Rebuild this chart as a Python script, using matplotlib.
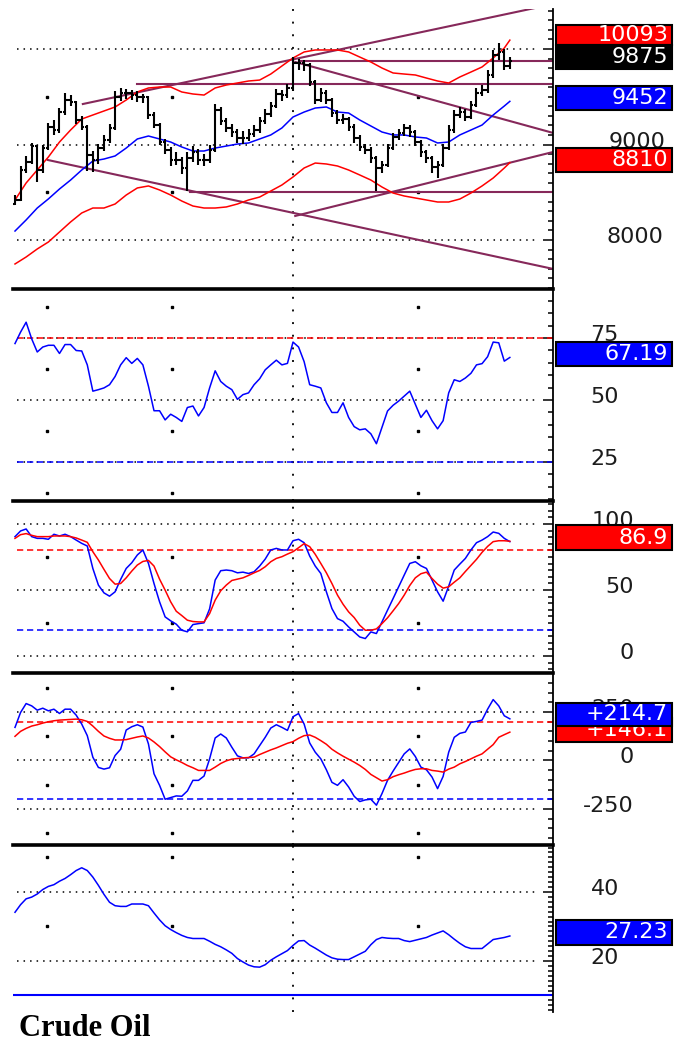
import matplotlib
matplotlib.use('Agg')
import matplotlib.pyplot as plt
from matplotlib.patches import Rectangle
from matplotlib.ticker import MultipleLocator, FixedLocator

# ---- price bars (one per session) ----
opens = [8380, 8420, 8730, 8820, 8985, 8735, 8965, 9185, 9150, 9340,
         9465, 9445, 9255, 9185, 8890, 8840, 8965, 9045, 9175, 9495,
         9540, 9540, 9520, 9495, 9495, 9310, 9205, 9025, 8945, 8840,
         8840, 8755, 8860, 8920, 8840, 8840, 8945, 9360, 9245, 9175,
         9130, 9070, 9070, 9110, 9150, 9245, 9320, 9405, 9530, 9520,
         9590, 9855, 9855, 9830, 9655, 9465, 9540, 9465, 9330, 9255,
         9265, 9185, 9070, 8975, 8945, 8860, 8755, 8785, 8965, 9080,
         9120, 9175, 9130, 9025, 8920, 8860, 8765, 8785, 8965, 9150,
         9310, 9340, 9290, 9415, 9540, 9570, 9730, 9935, 9970, 9820]
highs = [8470, 8770, 8880, 9020, 9000, 9000, 9230, 9260, 9380, 9540,
         9520, 9460, 9300, 9200, 8930, 9010, 9100, 9210, 9560, 9590,
         9580, 9570, 9560, 9530, 9510, 9340, 9230, 9060, 8970, 8920,
         8870, 8920, 8980, 8950, 8900, 8990, 9420, 9390, 9280, 9210,
         9160, 9140, 9160, 9200, 9290, 9370, 9450, 9580, 9570, 9630,
         9920, 9900, 9880, 9850, 9680, 9590, 9570, 9490, 9360, 9320,
         9290, 9210, 9100, 9010, 8970, 8880, 8830, 9010, 9120, 9160,
         9220, 9200, 9150, 9050, 8940, 8880, 8830, 9010, 9200, 9360,
         9390, 9370, 9460, 9590, 9620, 9780, 9990, 10060, 10000, 9920]
lows = [8370, 8410, 8700, 8800, 8610, 8700, 8940, 9100, 9120, 9310,
        9400, 9220, 9150, 8720, 8710, 8800, 8930, 9020, 9150, 9460,
        9480, 9470, 9440, 9430, 9270, 9170, 8990, 8900, 8780, 8790,
        8690, 8510, 8820, 8790, 8770, 8810, 8920, 9200, 9130, 9080,
        9020, 9010, 9040, 9080, 9120, 9210, 9290, 9380, 9460, 9490,
        9560, 9780, 9770, 9610, 9420, 9440, 9420, 9290, 9210, 9220,
        9140, 9020, 8930, 8900, 8810, 8510, 8700, 8760, 8940, 9050,
        9090, 9080, 8980, 8870, 8810, 8700, 8650, 8760, 8940, 9120,
        9280, 9250, 9270, 9390, 9510, 9540, 9700, 9880, 9780, 9790]
closes = [8420, 8730, 8820, 8985, 8735, 8965, 9185, 9150, 9340, 9465,
          9445, 9255, 9185, 8890, 8840, 8965, 9045, 9175, 9495, 9540,
          9540, 9520, 9495, 9495, 9310, 9205, 9025, 8945, 8840, 8840,
          8755, 8860, 8920, 8840, 8840, 8945, 9360, 9245, 9175, 9130,
          9070, 9070, 9110, 9150, 9245, 9320, 9405, 9530, 9520, 9590,
          9855, 9855, 9830, 9655, 9465, 9540, 9465, 9330, 9255, 9265,
          9185, 9070, 8975, 8945, 8860, 8755, 8785, 8965, 9080, 9120,
          9175, 9130, 9025, 8920, 8860, 8765, 8785, 8965, 9150, 9310,
          9340, 9290, 9415, 9540, 9570, 9730, 9935, 9970, 9820, 9875]
bar_idx = list(range(len(closes)))

# moving average and bands, read every second bar
band_idx = list(range(0, 90, 2)) + [89]
ma_mid = [8094, 8210, 8335, 8430, 8534, 8628, 8733, 8827, 8848, 8880,
          8963, 9058, 9089, 9058, 9026, 8974, 8932, 8932, 8963, 8984,
          9005, 9016, 9058, 9100, 9173, 9288, 9340, 9382, 9393, 9340,
          9330, 9257, 9194, 9131, 9100, 9100, 9079, 9068, 9016, 9026,
          9100, 9152, 9204, 9309, 9403, 9452]
band_up = [8419, 8597, 8733, 8869, 9026, 9152, 9267, 9309, 9351, 9393,
           9466, 9550, 9592, 9602, 9602, 9550, 9529, 9518, 9592, 9623,
           9644, 9665, 9675, 9738, 9822, 9906, 9969, 9990, 9990, 9990,
           9969, 9916, 9864, 9801, 9749, 9738, 9728, 9696, 9665, 9644,
           9707, 9759, 9812, 9906, 10010, 10093]
band_dn = [7749, 7822, 7906, 7979, 8084, 8189, 8283, 8335, 8335, 8377,
           8471, 8545, 8566, 8524, 8471, 8408, 8356, 8335, 8335, 8346,
           8377, 8419, 8450, 8513, 8576, 8660, 8754, 8806, 8796, 8775,
           8733, 8681, 8628, 8555, 8492, 8461, 8440, 8419, 8398, 8398,
           8429, 8492, 8566, 8649, 8754, 8810]

# hand drawn trend lines: start bar, start price, end bar, end price
trend_x0 = [12.2, 21.9, 51.3, 50.4, 5.9, 50.4, 31.5]
trend_y0 = [9424, 9634, 9870, 9864, 8838, 8252, 8503]
trend_x1 = [96.8, 96.8, 96.8, 96.8, 96.8, 96.8, 96.8]
trend_y1 = [10470, 9634, 9870, 9121, 7697, 8922, 8503]

# ---- indicators ----
rsi = [72.8, 77.4, 81.4, 74.7, 69.4, 71.4, 72.1, 72.1, 68.8, 72.4,
       72.4, 70.0, 69.8, 64.2, 53.6, 54.2, 54.9, 56.2, 59.5, 64.2,
       67.1, 64.8, 66.8, 64.2, 55.6, 45.7, 45.7, 42.0, 44.3, 43.0,
       41.4, 47.0, 47.6, 43.6, 47.0, 54.9, 61.8, 57.5, 55.6, 54.2,
       50.3, 52.2, 52.9, 56.2, 58.6, 62.2, 64.2, 66.1, 64.2, 64.8,
       73.4, 71.4, 65.5, 56.2, 55.6, 54.9, 48.9, 45.0, 45.0, 48.9,
       43.0, 39.3, 38.0, 38.4, 36.4, 32.4, 39.0, 45.6, 47.9, 49.6,
       51.6, 53.6, 48.3, 43.0, 45.9, 41.7, 38.4, 41.7, 52.9, 58.2,
       57.5, 58.9, 60.8, 64.2, 64.7, 67.5, 73.4, 73.1, 65.7, 67.19]
stoch_k = [90.4, 94.7, 96.2, 90.4, 89.1, 89.1, 88.4, 92.2, 90.9, 92.2,
           90.4, 87.8, 85.3, 83.3, 66.3, 53.7, 47.8, 45.3, 48.6, 58.0,
           66.3, 70.6, 76.5, 80.3, 70.1, 54.9, 41.0, 29.6, 26.6, 24.1,
           19.5, 18.3, 23.8, 24.5, 25.1, 35.7, 57.5, 64.6, 65.1, 64.6,
           63.0, 63.5, 62.5, 63.8, 68.1, 73.4, 80.3, 81.5, 80.3, 80.3,
           87.3, 88.4, 85.8, 75.7, 68.1, 62.5, 48.6, 35.9, 28.3, 26.3,
           22.0, 18.2, 14.4, 13.2, 18.2, 17.0, 25.8, 34.7, 43.5, 52.4,
           61.3, 70.1, 71.4, 68.3, 66.3, 57.5, 48.6, 41.5, 52.9, 65.1,
           69.6, 73.9, 80.3, 85.8, 87.8, 90.4, 93.9, 92.9, 89.1, 86.6]
stoch_d = [89.1, 91.9, 92.7, 91.4, 90.4, 90.4, 90.4, 90.9, 90.9, 90.9,
           90.4, 89.4, 87.8, 86.1, 79.0, 72.7, 65.6, 58.7, 54.4, 54.9,
           59.2, 64.3, 68.9, 71.6, 72.4, 68.1, 58.2, 49.9, 41.0, 33.9,
           30.6, 27.1, 26.1, 25.8, 25.8, 32.1, 42.3, 49.4, 53.7, 57.2,
           58.2, 59.2, 61.0, 63.0, 64.8, 67.6, 71.4, 73.9, 75.2, 77.2,
           79.0, 82.0, 85.1, 82.8, 77.0, 70.1, 63.0, 54.9, 46.1, 39.2,
           33.4, 29.1, 23.3, 19.5, 19.5, 20.5, 24.5, 28.9, 34.2, 39.7,
           46.1, 53.4, 59.2, 62.3, 63.5, 58.7, 54.4, 51.4, 52.4, 55.9,
           59.2, 64.0, 68.6, 73.2, 78.5, 83.0, 86.6, 87.3, 87.3, 86.9]
cci = [170.7, 247.4, 293.5, 281.6, 259.4, 269.6, 256.0, 264.5, 242.3, 264.5,
       264.5, 233.8, 187.7, 128.0, 17.1, -35.8, -44.4, -37.5, 25.6, 58.0,
       157.0, 174.1, 184.3, 172.4, 85.3, -68.3, -128.0, -199.7, -191.1, -182.6,
       -184.3, -157.0, -102.4, -102.4, -80.2, 8.5, 116.0, 136.5, 116.0, 68.3,
       23.9, 13.7, 13.7, 34.1, 76.8, 119.5, 167.2, 184.3, 170.7, 155.3,
       225.3, 242.3, 187.7, 90.4, 42.7, 8.5, -47.8, -112.6, -128.0, -99.0,
       -136.5, -184.3, -211.6, -203.1, -199.7, -230.4, -170.7, -102.4, -54.6, -10.2,
       34.1, 59.7, 20.5, -34.1, -47.8, -85.3, -145.1, -81.9, 42.7, 119.5,
       139.9, 146.8, 196.2, 201.4, 208.2, 264.5, 314.0, 281.6, 230.4, 214.7]
cci_avg = [124.6, 150.2, 165.5, 177.5, 184.3, 192.9, 199.7, 204.8, 208.2, 209.9,
           211.6, 213.3, 209.9, 201.4, 177.5, 150.2, 126.3, 114.4, 105.8, 105.8,
           107.5, 114.4, 121.2, 126.3, 116.0, 95.6, 71.7, 44.4, 18.8, 3.4,
           -10.2, -25.6, -37.5, -51.2, -51.2, -51.2, -34.1, -15.4, -1.7, 6.8,
           10.2, 13.7, 15.4, 17.1, 30.7, 42.7, 54.6, 64.8, 76.8, 88.7,
           97.3, 114.4, 128.0, 131.4, 119.5, 102.4, 83.6, 58.0, 39.2, 22.2,
           6.8, -8.5, -25.6, -46.1, -71.7, -88.7, -105.8, -99.0, -83.6, -73.4,
           -64.8, -54.6, -46.1, -42.7, -42.7, -51.2, -54.6, -59.7, -44.4, -34.1,
           -17.1, -5.1, 8.5, 22.2, 34.1, 58.0, 81.9, 119.5, 133.1, 146.1]
adx = [34.1, 36.3, 38.0, 38.5, 39.4, 40.7, 41.6, 42.1, 43.1, 43.9,
       45.0, 46.2, 47.0, 46.2, 44.3, 41.9, 39.3, 37.0, 36.0, 35.8,
       35.8, 36.5, 36.5, 36.5, 36.0, 33.9, 31.9, 30.2, 29.1, 28.2,
       27.4, 26.8, 26.5, 26.5, 26.5, 25.7, 24.8, 24.1, 23.2, 22.2,
       20.7, 19.7, 18.8, 18.3, 18.2, 18.9, 20.2, 21.2, 22.1, 23.0,
       24.5, 25.8, 25.9, 24.6, 23.7, 22.7, 21.7, 20.9, 20.5, 20.4,
       20.4, 21.2, 22.0, 22.8, 24.7, 26.2, 26.8, 26.6, 26.5, 26.5,
       25.9, 25.6, 26.0, 26.4, 26.8, 27.5, 28.1, 28.7, 27.6, 26.3,
       25.1, 24.1, 23.6, 23.6, 23.6, 24.9, 26.2, 26.5, 26.8, 27.23]

# last value boxes on the right: text, colour
box_text = ['10093', '9875', '9452', '8810', '67.19', '86.9', '+146.1', '+214.7', '27.23']
box_color = ['#ff0000', '#000000', '#0000ff', '#ff0000', '#0000ff', '#ff0000',
             '#ff0000', '#0000ff', '#0000ff']
box_top = [25, 45, 86, 148, 342, 525, 718, 703, 920]
box_bot = [45, 69, 110, 172, 366, 550, 742, 726, 945]

plt.rcParams['lines.scale_dashes'] = False
plt.rcParams['font.family'] = 'DejaVu Sans'

W, H = 674, 1044
fig = plt.figure(figsize=(W / 100, H / 100), dpi=100)


def fx(x):
    return x / W


def fy(y):
    return 1 - y / H


LEFT, RIGHT = 13, 553
X_LO, X_HI = -0.36, 96.76
GRID_X0, GRID_X1 = 0.36, 93.5
DOTS = (0, (1.1, 3.6))
VDOTS = (0, (1.4, 7.7))
DASH = (0, (4.5, 2.7))
TREND = '#86285a'
LABCOL = '#1c1c1c'
dot_idx = [5.76, 28.24, 72.48]


def make_panel(top, bottom, ylo, yhi, minor, majors, grid, dots, sep=True):
    ax = fig.add_axes([fx(LEFT), fy(bottom), fx(RIGHT) - fx(LEFT), (bottom - top) / H])
    ax.patch.set_visible(False)
    ax.set_xlim(X_LO, X_HI)
    ax.set_ylim(ylo, yhi)
    ax.spines['left'].set_visible(False)
    ax.spines['top'].set_visible(False)
    ax.spines['right'].set_linewidth(1.3)
    if sep:
        ax.spines['bottom'].set_linewidth(2.6)
    else:
        ax.spines['bottom'].set_visible(False)
    ax.set_xticks([])
    ax.yaxis.tick_right()
    ax.yaxis.set_major_locator(FixedLocator(majors))
    ax.yaxis.set_minor_locator(MultipleLocator(minor))
    ax.tick_params(axis='y', which='major', direction='in', length=7, width=1.1,
                   labelright=False, labelleft=False)
    ax.tick_params(axis='y', which='minor', direction='in', length=3.5, width=1.1)
    for g in grid:
        ax.plot([GRID_X0, GRID_X1], [g, g], color='black', lw=1.1, ls=DOTS, zorder=1)
    ax.axvline(50, color='black', lw=1.3, ls=VDOTS, zorder=1)
    for d in dots:
        ax.plot(dot_idx, [d] * len(dot_idx), ls='none', marker='s', ms=1.6,
                color='black', zorder=1)
    return ax


def ylabel(ax, text, value, right_px):
    ax.annotate(text, xy=(1, value), xycoords=('axes fraction', 'data'),
                xytext=(right_px - RIGHT, 3), textcoords='offset pixels',
                ha='right', va='center', fontsize=16, color=LABCOL,
                annotation_clip=False)


# ---- price panel ----
ax1 = make_panel(9, 289, 7487, 10419, 100, [8000, 9000, 10000],
                 [8000, 9000, 10000], [8500, 9500])
ax1.vlines(bar_idx, lows, highs, color='black', lw=1.5, zorder=4)
ax1.hlines(opens, [i - 0.45 for i in bar_idx], bar_idx, color='black', lw=1.5, zorder=4)
ax1.hlines(closes, bar_idx, [i + 0.45 for i in bar_idx], color='black', lw=1.5, zorder=4)
ax1.plot(band_idx, ma_mid, color='#0000ff', lw=1.1, zorder=3)
ax1.plot(band_idx, band_up, color='#ff0000', lw=1.1, zorder=3)
ax1.plot(band_idx, band_dn, color='#ff0000', lw=1.1, zorder=3)
for k in range(len(trend_x0)):
    ax1.plot([trend_x0[k], trend_x1[k]], [trend_y0[k], trend_y1[k]],
             color=TREND, lw=1.5, zorder=2)
ylabel(ax1, '9000', 9000, 665)
ylabel(ax1, '8000', 8000, 663)

# ---- RSI ----
ax2 = make_panel(289, 501, 9.3, 94.8, 5, [25, 50, 75], [25, 50, 75],
                 [12.5, 37.5, 62.5, 87.5])
ax2.plot([GRID_X0, X_HI], [75, 75], color='#ff0000', lw=1.1, ls=DASH, zorder=2)
ax2.plot([GRID_X0, X_HI], [25, 25], color='#0000ff', lw=1.1, ls=DASH, zorder=2)
ax2.plot(bar_idx, rsi, color='#0000ff', lw=1.1, zorder=3)
for v in [75, 50, 25]:
    ylabel(ax2, str(v), v, 619)

# ---- stochastic ----
ax3 = make_panel(501, 673, -12.9, 117.4, 5, [0, 50, 100], [0, 50, 100], [25, 75])
ax3.plot([GRID_X0, X_HI], [80, 80], color='#ff0000', lw=1.1, ls=DASH, zorder=2)
ax3.plot([GRID_X0, X_HI], [20, 20], color='#0000ff', lw=1.1, ls=DASH, zorder=2)
ax3.plot(bar_idx, stoch_k, color='#0000ff', lw=1.1, zorder=3)
ax3.plot(bar_idx, stoch_d, color='#ff0000', lw=1.1, zorder=3)
for v in [100, 50, 0]:
    ylabel(ax3, str(v), v, 634)

# ---- CCI ----
ax4 = make_panel(673, 845, -435.6, 451, 50, [-250, 0, 250], [-250, 0, 250],
                 [-375, -125, 125, 375])
ax4.plot([GRID_X0, X_HI], [200, 200], color='#ff0000', lw=1.1, ls=DASH, zorder=2)
ax4.plot([GRID_X0, X_HI], [-200, -200], color='#0000ff', lw=1.1, ls=DASH, zorder=2)
ax4.plot(bar_idx, cci, color='#0000ff', lw=1.1, zorder=3)
ax4.plot(bar_idx, cci_avg, color='#ff0000', lw=1.1, zorder=3)
for v in [250, 0, -250]:
    ylabel(ax4, str(v), v, 634)

# ---- ADX ----
ax5 = make_panel(845, 1012, 5.2, 53.6, 20 / 14, [20, 40], [20, 40], [30, 50], sep=False)
ax5.plot([X_LO, X_HI], [10, 10], color='#0000ff', lw=1.5, zorder=2)
ax5.plot(bar_idx, adx, color='#0000ff', lw=1.1, zorder=3)
for v in [40, 20]:
    ylabel(ax5, str(v), v, 619)

# value boxes (later ones sit on top of earlier ones)
for k in range(len(box_text)):
    top, bot = box_top[k], box_bot[k]
    fig.add_artist(Rectangle((fx(556), fy(bot)), fx(672) - fx(556), (bot - top) / H,
                             transform=fig.transFigure, facecolor=box_color[k],
                             edgecolor='black', lw=1.5, zorder=2 + 2 * k))
    fig.text(fx(668), fy((top + bot) / 2), box_text[k], ha='right', va='center',
             color='white', fontsize=16, zorder=3 + 2 * k)

fig.text(fx(19), fy(1036), 'Crude Oil', family='Liberation Serif', weight='bold',
         fontsize=22, ha='left', va='baseline')

fig.savefig('out.png', dpi=100)
